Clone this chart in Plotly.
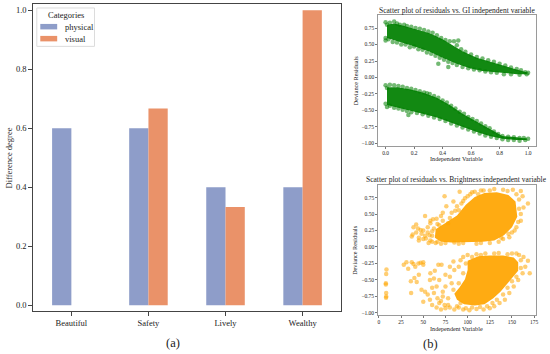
import plotly.graph_objects as go

# ---------------- data ----------------
categories = ["Beautiful", "Safety", "Lively", "Wealthy"]
physical = [0.6, 0.6, 0.4, 0.4]
visual = [0.0, 0.667, 0.333, 1.0]
legend_names = ["physical", "visual"]

# GI scatter: dense core outlines + individual points
gi_up_core_x = [0.01, 0.06, 0.12, 0.22, 0.31, 0.40, 0.47, 0.54, 0.64, 0.73, 0.82, 0.92, 0.99,
                0.99, 0.92, 0.80, 0.68, 0.59, 0.50, 0.40, 0.31, 0.22, 0.13, 0.04, 0.01]
gi_up_core_y = [0.80, 0.82, 0.79, 0.73, 0.67, 0.58, 0.49, 0.40, 0.30, 0.24, 0.19, 0.12, 0.08,
                0.05, 0.05, 0.07, 0.10, 0.14, 0.21, 0.30, 0.39, 0.46, 0.52, 0.57, 0.60]
gi_lo_core_x = [0.01, 0.08, 0.17, 0.26, 0.36, 0.45, 0.54, 0.64, 0.73, 0.82, 0.92, 0.99,
                0.99, 0.92, 0.82, 0.73, 0.64, 0.54, 0.45, 0.36, 0.26, 0.17, 0.08, 0.01]
gi_lo_core_y = [-0.15, -0.15, -0.18, -0.23, -0.31, -0.42, -0.55, -0.67, -0.78, -0.89, -0.91, -0.93,
                -0.95, -0.95, -0.93, -0.89, -0.83, -0.75, -0.68, -0.61, -0.55, -0.50, -0.46, -0.42]
gi_pts_x = [0.0, 0.01, 0.03, 0.06, 0.08, 0.10, 0.13, 0.15, 0.18, 0.21, 0.24, 0.27, 0.30, 0.33, 0.36,
            0.39, 0.42, 0.45, 0.48, 0.51, 0.50, 0.53, 0.56, 0.60, 0.64, 0.68, 0.72, 0.76, 0.80, 0.84,
            0.88, 0.92, 0.95, 0.98, 1.0, 0.99,
            0.0, 0.0, 0.02, 0.05, 0.08, 0.11, 0.14, 0.17, 0.20, 0.23, 0.26, 0.29, 0.32, 0.35, 0.37,
            0.38, 0.41, 0.44, 0.44, 0.47, 0.50, 0.54, 0.58, 0.62, 0.66, 0.70, 0.74, 0.78, 0.83, 0.88, 0.94,
            0.0, 0.01, 0.03, 0.06, 0.09, 0.12, 0.15, 0.18, 0.21, 0.24, 0.27, 0.29, 0.31, 0.34, 0.37,
            0.40, 0.43, 0.46, 0.49, 0.52, 0.55, 0.58, 0.61, 0.64, 0.67, 0.70, 0.73, 0.76, 0.79, 0.82,
            0.86, 0.90, 0.94, 0.97, 1.0,
            0.0, 0.01, 0.03, 0.06, 0.09, 0.12, 0.16, 0.15, 0.18, 0.22, 0.26, 0.30, 0.34, 0.38, 0.42,
            0.46, 0.50, 0.54, 0.58, 0.62, 0.66, 0.70, 0.74, 0.78, 0.82, 0.86, 0.90, 0.94, 0.98]
gi_pts_y = [0.84, 0.80, 0.83, 0.85, 0.82, 0.80, 0.80, 0.78, 0.77, 0.75, 0.74, 0.72, 0.70, 0.68, 0.64,
            0.60, 0.57, 0.55, 0.55, 0.56, 0.49, 0.43, 0.39, 0.35, 0.31, 0.29, 0.26, 0.24, 0.21, 0.18,
            0.15, 0.13, 0.11, 0.08, 0.07, 0.05,
            0.60, 0.56, 0.58, 0.54, 0.53, 0.50, 0.50, 0.46, 0.47, 0.43, 0.42, 0.38, 0.36, 0.33, 0.21,
            0.30, 0.27, 0.16, 0.24, 0.22, 0.19, 0.16, 0.14, 0.12, 0.11, 0.09, 0.08, 0.07, 0.05, 0.05, 0.04,
            -0.12, -0.16, -0.11, -0.12, -0.13, -0.14, -0.16, -0.17, -0.19, -0.21, -0.23, -0.24, -0.25, -0.28, -0.31,
            -0.35, -0.38, -0.43, -0.47, -0.52, -0.55, -0.60, -0.63, -0.66, -0.70, -0.74, -0.77, -0.82, -0.86, -0.89,
            -0.90, -0.91, -0.92, -0.92, -0.93,
            -0.40, -0.45, -0.43, -0.46, -0.47, -0.49, -0.57, -0.51, -0.53, -0.54, -0.56, -0.58, -0.61, -0.63, -0.66,
            -0.70, -0.73, -0.76, -0.79, -0.82, -0.85, -0.88, -0.90, -0.92, -0.94, -0.95, -0.95, -0.96, -0.95]

# Brightness scatter
br_up_core_x = [64, 76, 88, 98, 108, 119, 133, 146, 154, 156, 150, 141, 130, 117, 100, 82, 70, 63]
br_up_core_y = [0.27, 0.37, 0.48, 0.64, 0.76, 0.82, 0.83, 0.79, 0.69, 0.46, 0.30, 0.18, 0.10, 0.08, 0.07, 0.07, 0.08, 0.14]
br_lo_core_x = [100, 112, 125, 140, 152, 157, 157, 151, 144, 137, 129, 119, 108, 96, 88, 85, 91, 97, 100]
br_lo_core_y = [-0.21, -0.14, -0.13, -0.13, -0.16, -0.23, -0.36, -0.46, -0.56, -0.68, -0.78, -0.87, -0.89,
                -0.87, -0.80, -0.71, -0.61, -0.49, -0.35]
br_pts_x = [37, 39, 42, 45, 48, 50, 52, 53, 55, 57, 58, 60, 61, 65, 66, 70, 72, 74, 76, 80, 84, 86, 90,
            91, 95, 100, 105, 115, 125, 140, 151, 160, 162, 168, 158, 160, 155, 150, 147, 140, 135, 110,
            90, 70, 58, 44, 38, 56, 64,
            45, 50, 55, 60, 62, 68, 72, 78, 82, 88, 93, 97, 103, 108, 112, 118, 130, 145, 155, 158, 163,
            160, 157, 153, 146, 138, 125, 115, 95, 85, 75, 66, 60, 52, 47, 42, 58,
            8.5, 8.2, 7.8, 7.8, 8.2, 8.2, 8.0, 31, 37, 39, 41, 44.5, 47, 50, 50, 36, 42.6, 36.3, 52, 57.5,
            63, 67, 70.6, 50, 57.5, 60, 65, 68, 70, 75, 72, 75, 80, 82, 85, 90, 92, 95, 100, 78, 85, 90,
            95, 102, 110, 118, 125, 130, 136, 142, 147, 152, 157, 162, 165, 168, 163, 158, 150, 135, 120,
            110, 170,
            62, 66, 70, 74, 80, 88, 92, 98, 105, 114, 122, 128, 133, 140, 145, 150, 155, 160, 160, 155,
            145, 130, 115, 105, 98, 95, 90, 84, 78, 72, 65, 60, 55, 48, 45, 40, 33, 28, 58, 62, 68, 75,
            80, 84]
br_pts_y = [0.16, 0.30, 0.22, 0.14, 0.20, 0.25, 0.47, 0.13, 0.30, 0.18, 0.36, 0.24, 0.42, 0.43, 0.35,
            0.47, 0.52, 0.77, 0.62, 0.44, 0.69, 0.55, 0.56, 0.84, 0.70, 0.77, 0.83, 0.86, 0.86, 0.87,
            0.87, 0.85, 0.77, 0.66, 0.58, 0.40, 0.30, 0.22, 0.15, 0.12, 0.08, 0.05, 0.05, 0.05, 0.10,
            0.28, 0.19, 0.06, 0.06,
            0.10, 0.12, 0.22, 0.17, 0.28, 0.33, 0.40, 0.36, 0.52, 0.62, 0.66, 0.74, 0.80, 0.84, 0.80,
            0.86, 0.88, 0.85, 0.80, 0.72, 0.60, 0.50, 0.38, 0.25, 0.20, 0.14, 0.06, 0.06, 0.06, 0.07,
            0.06, 0.08, 0.08, 0.17, 0.26, 0.34, 0.40,
            -0.34, -0.41, -0.55, -0.57, -0.70, -0.75, -0.77, -0.23, -0.23, -0.26, -0.30, -0.25, -0.24,
            -0.23, -0.27, -0.52, -0.53, -0.70, -0.68, -0.50, -0.36, -0.27, -0.27, -0.83, -0.80, -0.88,
            -0.92, -0.85, -0.95, -0.93, -0.75, -0.60, -0.45, -0.55, -0.35, -0.30, -0.20, -0.15, -0.12,
            -0.88, -0.95, -0.92, -0.95, -0.96, -0.94, -0.95, -0.93, -0.90, -0.85, -0.80, -0.70, -0.60,
            -0.50, -0.40, -0.30, -0.21, -0.15, -0.12, -0.10, -0.09, -0.10, -0.11, -0.40,
            -0.70, -0.78, -0.82, -0.88, -0.92, -0.90, -0.85, -0.93, -0.92, -0.91, -0.90, -0.85, -0.80,
            -0.72, -0.62, -0.52, -0.45, -0.32, -0.20, -0.10, -0.11, -0.10, -0.12, -0.15, -0.25, -0.40,
            -0.55, -0.65, -0.78, -0.68, -0.60, -0.62, -0.72, -0.65, -0.42, -0.47, -0.33, -0.27, -0.40,
            -0.48, -0.50, -0.42, -0.30, -0.22]

bar_yticks = [0.0, 0.2, 0.4, 0.6, 0.8, 1.0]
res_yticks = [-1.0, -0.75, -0.5, -0.25, 0.0, 0.25, 0.5, 0.75]
gi_xticks = [0.0, 0.2, 0.4, 0.6, 0.8, 1.0]
br_xticks = [0, 25, 50, 75, 100, 125, 150, 175]

# ---------------- figure ----------------
FONT = "Liberation Serif"
BLUE = "#8E9DC9"
ORANGE = "#EA9269"
GREEN = "rgb(0,128,0)"
ORG = "rgb(255,165,0)"

fig = go.Figure()
fig.add_trace(go.Bar(x=categories, y=physical, name=legend_names[0],
                     marker=dict(color=BLUE, line=dict(width=0)), xaxis="x", yaxis="y"))
fig.add_trace(go.Bar(x=categories, y=visual, name=legend_names[1],
                     marker=dict(color=ORANGE, line=dict(width=0)), xaxis="x", yaxis="y"))

def core(xs, ys, color, ax, ay):
    fig.add_trace(go.Scatter(x=xs, y=ys, mode="lines", fill="toself", fillcolor=color,
                             line=dict(width=0, color=color), showlegend=False, hoverinfo="skip",
                             xaxis=ax, yaxis=ay))

core(gi_up_core_x, gi_up_core_y, "rgba(0,128,0,0.93)", "x2", "y2")
core(gi_lo_core_x, gi_lo_core_y, "rgba(0,128,0,0.93)", "x2", "y2")
fig.add_trace(go.Scatter(x=gi_pts_x, y=gi_pts_y, mode="markers", showlegend=False,
                         marker=dict(color=GREEN, size=4.5, opacity=0.55, line=dict(width=0)),
                         xaxis="x2", yaxis="y2"))
core(br_up_core_x, br_up_core_y, "rgba(255,165,0,0.93)", "x3", "y3")
core(br_lo_core_x, br_lo_core_y, "rgba(255,165,0,0.93)", "x3", "y3")
fig.add_trace(go.Scatter(x=br_pts_x, y=br_pts_y, mode="markers", showlegend=False,
                         marker=dict(color=ORG, size=4.5, opacity=0.55, line=dict(width=0)),
                         xaxis="x3", yaxis="y3"))

W, H = 550, 354
def px(v): return v / W
def py(v): return 1 - v / H

bar_ax = dict(showline=True, mirror=True, linecolor="#444", linewidth=1.1, ticks="outside",
              ticklen=3.5, tickcolor="#444", showgrid=False, zeroline=False,
              tickfont=dict(family=FONT, size=8.5, color="#222"))
sc_ax = dict(showline=True, mirror=True, linecolor="#9a9a9a", linewidth=1, ticks="outside",
             ticklen=2, tickcolor="#777", showgrid=False, zeroline=False,
             tickfont=dict(family=FONT, size=5.5, color="#222"))

fig.update_layout(
    width=W, height=H, margin=dict(l=0, r=0, t=0, b=0),
    paper_bgcolor="white", plot_bgcolor="white",
    font=dict(family=FONT, color="#222"),
    barmode="group", bargap=0.5, bargroupgap=0, showlegend=False,
    xaxis=dict(domain=[px(32), px(342)], range=[-0.5, 3.5], anchor="y", **bar_ax),
    yaxis=dict(domain=[py(312), py(4)], range=[-0.0203, 1.0213], anchor="x",
               tickvals=bar_yticks, tickformat=".1f", **bar_ax),
    xaxis2=dict(domain=[px(379.3), px(538.3)], range=[-0.0516, 1.058], anchor="y2",
                tickvals=gi_xticks, tickformat=".1f", **sc_ax),
    yaxis2=dict(domain=[py(146), py(15.5)], range=[-1.035, 0.942], anchor="x2",
                tickvals=res_yticks, tickformat=".2f", **sc_ax),
    xaxis3=dict(domain=[px(379.3), px(538.3)], range=[-0.78, 177.5], anchor="y3",
                tickvals=br_xticks, **sc_ax),
    yaxis3=dict(domain=[py(315.7), py(185.7)], range=[-1.030, 0.939], anchor="x3",
                tickvals=res_yticks, tickformat=".2f", **sc_ax),
)

# custom compact legend (matplotlib style)
shapes = [
    dict(type="rect", xref="paper", yref="paper", x0=px(36), x1=px(94), y0=py(46.5), y1=py(8),
         line=dict(color="#dcdcdc", width=1), fillcolor="rgba(255,255,255,0.85)", layer="above"),
    dict(type="rect", xref="paper", yref="paper", x0=px(39.5), x1=px(56.5), y0=py(29.5), y1=py(24),
         line=dict(width=0), fillcolor=BLUE, layer="above"),
    dict(type="rect", xref="paper", yref="paper", x0=px(39.5), x1=px(56.5), y0=py(41.5), y1=py(36),
         line=dict(width=0), fillcolor=ORANGE, layer="above"),
]
fig.update_layout(shapes=shapes)

anns = [
    dict(text="Categories", x=px(65), y=py(15), size=8.5),
    dict(text=legend_names[0], x=px(62.5), y=py(27), size=8.5, xanchor="left"),
    dict(text=legend_names[1], x=px(62.5), y=py(39), size=8.5, xanchor="left"),
    dict(text="Difference degree", x=px(8), y=py(158), textangle=-90, size=8.5),
    dict(text="(a)", x=px(173), y=py(344), size=12.5),
    dict(text="(b)", x=px(432), y=py(345), size=12.5),
    dict(text="Scatter plot of residuals vs. GI independent variable", x=px(458), y=py(10.5), size=7.5),
    dict(text="Independent Variable", x=px(458.5), y=py(159), size=6.2),
    dict(text="Deviance Residuals", x=px(356), y=py(80.5), textangle=-90, size=6.2),
    dict(text="Scatter plot of residuals vs. Brightness independent variable", x=px(458), y=py(180), size=7.5),
    dict(text="Independent Variable", x=px(458.5), y=py(329), size=6.2),
    dict(text="Deviance Residuals", x=px(356), y=py(250.5), textangle=-90, size=6.2),
]
fig.update_layout(annotations=[
    dict(text=a["text"], x=a["x"], y=a["y"], xref="paper", yref="paper", showarrow=False,
         xanchor=a.get("xanchor", "center"), yanchor="middle", textangle=a.get("textangle", 0),
         font=dict(family=FONT, size=a["size"], color="#222"))
    for a in anns
])

fig.write_html("out.html", config={"displayModeBar": False},
               post_script="document.body.style.margin='0';")
